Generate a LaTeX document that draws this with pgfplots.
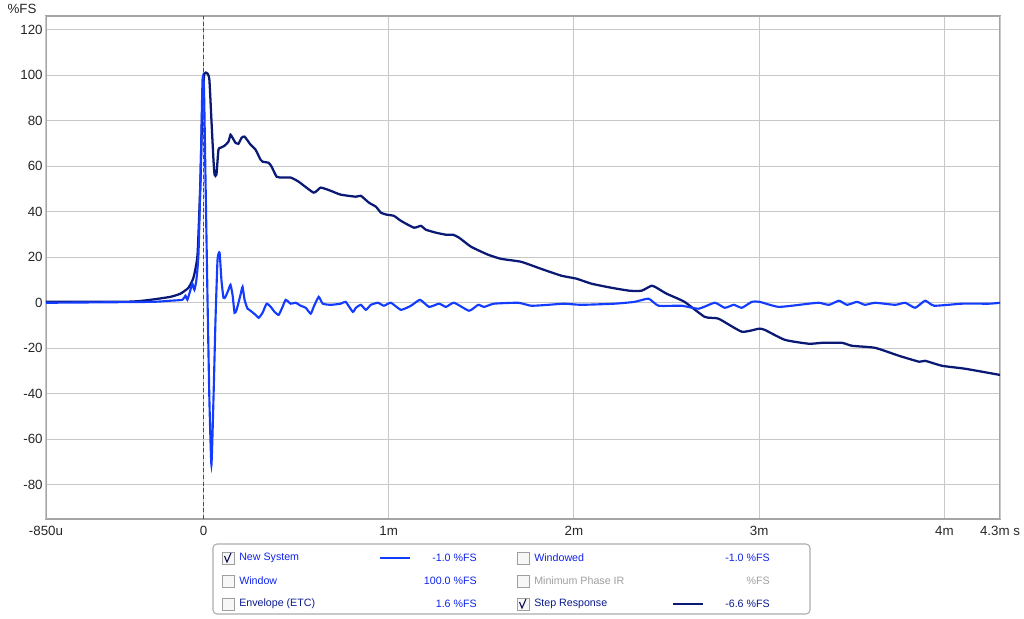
\documentclass[border=0pt]{standalone}
\usepackage{pgfplots}
\pgfplotsset{compat=1.18}
\usepackage{fontspec}
\setmainfont{Liberation Sans}
\definecolor{sysblue}{RGB}{20,60,255}
\definecolor{stepnavy}{RGB}{10,25,115}
\definecolor{gridgray}{RGB}{200,200,200}
\definecolor{framegray}{RGB}{165,165,165}
\definecolor{legblue}{RGB}{15,35,235}
\definecolor{legnavy}{RGB}{10,25,140}
\definecolor{cursorred}{RGB}{255,0,0}
\newcommand\cbox[2]{\draw[gray!75, fill=gray!6, line width=0.6pt] ({#1-6},{#2-6}) rectangle ({#1+6},{#2+6});}
\newcommand\cmark[2]{\draw[legnavy!60!black, line width=0.8pt] ({#1-3.5},{#2-2}) -- ({#1-1},{#2+4}) -- ({#1+3},{#2-5});}
\pgfplotstableread{
x y
-0.850 0.4
-0.40 0.5
-0.287 1.3
-0.179 2.6
-0.124 4.0
-0.081 6.6
-0.054 11.0
-0.032 21.1
-0.016 54.5
-0.005 89.2
0.005 100.7
0.022 100.7
0.032 98.0
0.043 80.4
0.054 62.9
0.060 56.3
0.070 56.3
0.081 67.3
0.092 68.1
0.114 69.0
0.135 70.8
0.146 73.8
0.157 72.5
0.173 70.3
0.189 69.9
0.206 72.5
0.222 73.0
0.254 69.5
0.281 67.3
0.308 62.9
0.319 62.0
0.352 61.5
0.368 59.8
0.395 55.4
0.427 55.0
0.471 55.0
0.514 53.2
0.595 48.4
0.633 50.6
0.687 49.2
0.741 47.5
0.823 46.6
0.850 47.0
0.893 44.0
0.931 42.2
0.958 39.6
0.990 38.7
1.028 38.2
1.066 36.0
1.136 33.0
1.174 33.8
1.201 32.1
1.255 30.8
1.309 29.9
1.347 29.9
1.380 28.6
1.445 24.6
1.537 21.1
1.607 19.3
1.715 18.0
1.823 14.9
1.932 11.9
2.013 10.6
2.094 8.4
2.202 6.6
2.300 5.3
2.365 5.3
2.419 7.5
2.446 6.6
2.500 4.0
2.597 0.4
2.706 -6.2
2.781 -7.0
2.906 -12.7
2.998 -11.4
3.030 -11.9
3.139 -16.3
3.268 -18.0
3.339 -17.6
3.447 -17.6
3.501 -18.9
3.626 -19.8
3.755 -23.3
3.864 -25.9
3.896 -25.5
3.988 -27.7
4.113 -29.0
4.300 -31.7
}\stepdata
\pgfplotstableread{
x y
-0.850 0.0
-0.287 0.4
-0.179 0.9
-0.114 1.3
-0.097 3.1
-0.087 1.3
-0.070 5.7
-0.060 8.4
-0.049 5.7
-0.038 10.1
-0.027 21.1
-0.016 54.5
-0.005 98.0
0.003 93.6
0.011 54.5
0.022 1.3
0.032 -42.6
0.043 -71.2
0.054 -42.6
0.065 -7.5
0.076 18.9
0.087 22.0
0.097 10.1
0.108 2.2
0.119 2.6
0.135 5.7
0.146 7.9
0.157 3.5
0.168 -4.4
0.179 -3.1
0.200 3.5
0.211 7.0
0.222 1.3
0.238 -2.6
0.254 -3.5
0.281 -5.3
0.298 -6.6
0.319 -4.4
0.341 -0.4
0.363 -1.8
0.384 -4.0
0.406 -5.3
0.427 -1.8
0.444 1.3
0.471 -0.4
0.498 0.0
0.525 -1.3
0.552 -2.2
0.579 -4.8
0.595 -1.8
0.622 2.6
0.644 -0.4
0.687 -0.9
0.741 -0.4
0.768 0.4
0.806 -4.0
0.823 -2.2
0.850 -0.9
0.877 -3.1
0.904 -0.9
0.942 0.0
0.974 -1.3
1.012 0.0
1.066 -3.1
1.120 -1.3
1.169 1.3
1.218 -1.8
1.272 -0.4
1.309 -1.8
1.353 0.0
1.434 -3.5
1.483 -0.9
1.515 -1.8
1.569 -0.4
1.699 0.0
1.769 -1.3
1.861 -0.9
1.948 -0.4
2.040 -0.9
2.219 -0.4
2.327 0.4
2.403 1.8
2.457 -1.3
2.581 -1.3
2.673 -2.6
2.760 0.0
2.814 -2.2
2.863 -0.9
2.906 -2.2
2.960 0.4
3.003 0.4
3.106 -1.8
3.268 -0.4
3.323 0.0
3.377 -0.9
3.431 0.9
3.474 -0.9
3.528 0.4
3.571 -0.9
3.626 0.0
3.734 -0.9
3.788 0.0
3.842 -2.2
3.896 0.9
3.945 -1.3
4.096 -0.4
4.242 -0.4
4.300 0.0
}\sysdata
\begin{document}
\begin{tikzpicture}
\useasboundingbox (0,0) rectangle (768pt,463.5pt);
\begin{axis}[
  at={(34.5pt,74.25pt)}, anchor=south west,
  scale only axis, width=715.5pt, height=377.25pt,
  xmin=-0.85, xmax=4.3, ymin=-95, ymax=126,
  xtick={0,1,2,3,4}, xticklabels={0,1m,2m,3m,4m},
  extra x ticks={-0.85,4.3}, extra x tick labels={-850u,4.3m s},
  x grid style={gridgray, line width=0.75pt},
  ytick={-80,-60,...,120},
  major tick length=0pt,
  xmajorgrids=true, ymajorgrids=true,
  major grid style={gridgray, line width=0.75pt},
  axis line style={framegray, line width=1.6pt},
  ticklabel style={font=\fontsize{10}{11}\selectfont, text=black!85},
  /pgf/number format/assume math mode=true,
  xticklabel style={yshift=-2pt},
  yticklabel style={xshift=1pt},
]
\addplot[stepnavy, line width=1.7pt, smooth, tension=0.3] table[x=x,y=y] {\stepdata};
\addplot[sysblue, line width=1.6pt, smooth, tension=0.3] table[x=x,y=y] {\sysdata};
\addplot[draw=cursorred, line width=1.0pt, dash pattern=on 3pt off 2pt] table[x=x,y=y] {
x y
0 -95
0 126
};
\end{axis}
\node[font=\fontsize{10}{11}\selectfont, text=black!85] at (16.5pt,456.5pt) {\%FS};
\begin{scope}[x=0.75pt,y=-0.75pt,shift={(0pt,463.5pt)}]
  \draw[gray!65, rounded corners=3pt, line width=0.8pt] (213,544) rectangle (810,614);
  \cbox{228}{558}\cmark{228}{558}
  \cbox{228}{581}
  \cbox{228}{604}
  \cbox{523}{558}
  \cbox{523}{581}
  \cbox{523}{604}\cmark{523}{604}
  \begin{scope}[every node/.style={font=\fontsize{8}{9}\selectfont, inner sep=0pt}]
    \node[anchor=west, text=legblue] at (239,558) {New System};
    \node[anchor=west, text=legblue] at (239,581) {Window};
    \node[anchor=west, text=legnavy] at (239,604) {Envelope (ETC)};
    \node[anchor=east, text=legblue] at (477,558) {-1.0 \%FS};
    \node[anchor=east, text=legblue] at (477,581) {100.0 \%FS};
    \node[anchor=east, text=legblue] at (477,604) {1.6 \%FS};
    \node[anchor=west, text=legblue] at (534,558) {Windowed};
    \node[anchor=west, text=gray!75] at (534,581) {Minimum Phase IR};
    \node[anchor=west, text=legnavy] at (534,604) {Step Response};
    \node[anchor=east, text=legblue] at (770,558) {-1.0 \%FS};
    \node[anchor=east, text=gray!75] at (770,581) {\%FS};
    \node[anchor=east, text=legnavy] at (770,604) {-6.6 \%FS};
  \end{scope}
  \draw[sysblue, line width=1.6pt] (380,558) -- (410,558);
  \draw[stepnavy, line width=1.6pt] (673,604) -- (703,604);
\end{scope}
\end{tikzpicture}
\end{document}
